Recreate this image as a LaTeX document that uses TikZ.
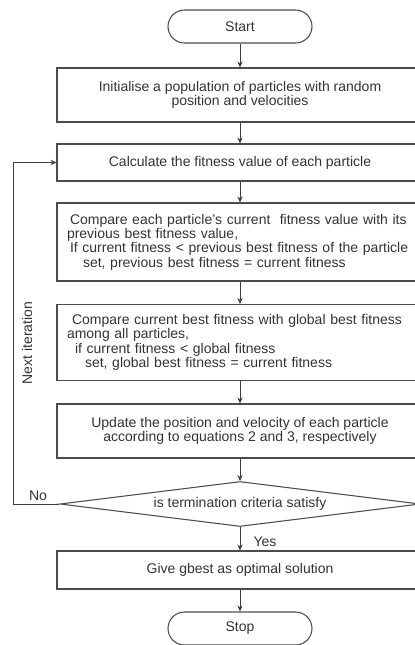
\documentclass[tikz,border=0pt]{standalone}
\usepackage{fontspec}
\setmainfont{Liberation Sans}
\usetikzlibrary{arrows.meta,shapes.geometric}
\begin{document}
\begin{tikzpicture}[x=0.75pt,y=-0.75pt,
  every node/.style={text=black!80, font=\fontsize{10.5pt}{9.6pt}\selectfont},
  box/.style={draw=black!70, line width=0.8pt, rectangle, minimum width=274.5pt, inner sep=0pt, align=center},
  lbox/.style={box, align=left, text width=259.5pt, inner xsep=7.5pt},
  term/.style={draw=black!70, line width=0.8pt, rectangle, rounded corners=12.375pt, minimum width=108pt, minimum height=24.75pt, inner sep=0pt},
  dec/.style={draw=black!70, line width=0.8pt, diamond, aspect=8, inner sep=0pt, minimum width=270pt, minimum height=33.75pt},
  arr/.style={draw=black!75, line width=0.7pt, -{Stealth[length=4.5pt,width=4pt]}},
  lbl/.style={inner sep=0pt}]
\useasboundingbox (0,0) rectangle (414,645);
\node[term] (start) at (240,26.5) {Start};
\node[box, minimum height=40.5pt] (init) at (240,95) {Initialise a population of particles with random\\position and velocities};
\node[box, minimum height=27.75pt] (calc) at (240,162.5) {Calculate the fitness value of each particle};
\node[lbox, minimum height=58.5pt] (cmp1) at (240,242) {\hspace*{2.25pt}Compare each particle's current~ fitness value with its\\previous best fitness value,\\\hspace*{2.25pt}If current fitness < previous best fitness of the particle\\\hspace*{12pt}set, previous best fitness = current fitness};
\node[lbox, minimum height=57pt] (cmp2) at (240,342.5) {\hspace*{3.75pt}Compare current best fitness with global best fitness\\among all particles,\\\hspace*{6pt}if current fitness < global fitness\\\hspace*{13.5pt}set, global best fitness = current fitness};
\node[box, minimum height=40.5pt] (upd) at (240,431) {Update the position and velocity of each particle\\according to equations 2 and 3, respectively};
\node[dec] (term) at (240,504) {is termination criteria satisfy};
\node[box, minimum height=28.5pt] (give) at (240,570) {Give gbest as optimal solution};
\node[term] (stop) at (240,628.5) {Stop};
\coordinate (lp) at (13,504);
\draw[arr] (start) -- (init);
\draw[arr] (init) -- (calc);
\draw[arr] (calc) -- (cmp1);
\draw[arr] (cmp1) -- (cmp2);
\draw[arr] (cmp2) -- (upd);
\draw[arr] (upd) -- (term);
\draw[arr] (term) -- (give);
\draw[arr] (give) -- (stop);
\draw[arr] (term.west) -- (lp) |- (calc.west);
\node[lbl] (no) at (38,496) {No};
\node[lbl] (yes) at (265,542) {Yes};
\node[lbl, rotate=90] (next) at (27,343) {Next iteration};
\end{tikzpicture}
\end{document}
